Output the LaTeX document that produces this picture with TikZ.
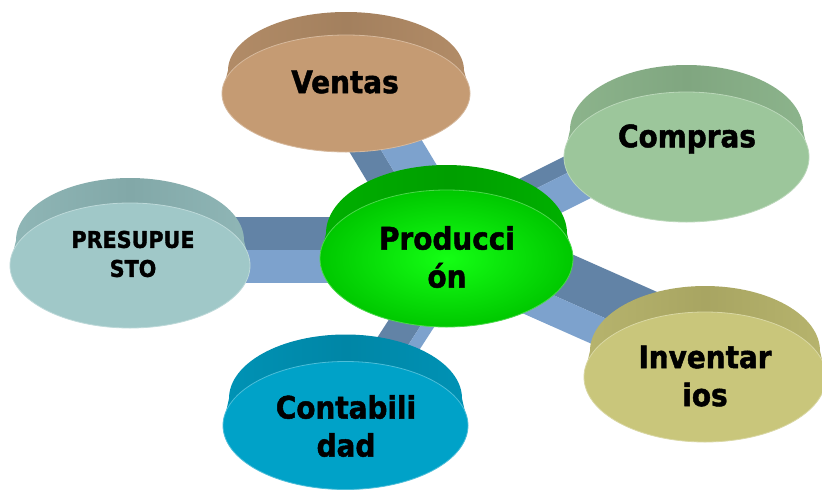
\documentclass[tikz,border=0pt]{standalone}
\usepackage{fontspec}
\setmainfont{DejaVu Sans Condensed}[BoldFont={DejaVu Sans Condensed Bold},BoldFeatures={FakeBold=1.5}]
\usetikzlibrary{calc}
\definecolor{beamdark}{HTML}{6283A6}
\definecolor{beamlight}{HTML}{7DA2CD}
\definecolor{ventasF}{HTML}{C59B73}\definecolor{ventasS}{HTML}{A3805E}
\definecolor{comprasF}{HTML}{9CC69B}\definecolor{comprasS}{HTML}{80A680}
\definecolor{invF}{HTML}{C9C67B}\definecolor{invS}{HTML}{A8A562}
\definecolor{contF}{HTML}{00A2C8}\definecolor{contS}{HTML}{0086A6}
\definecolor{presF}{HTML}{A0C8C8}\definecolor{presS}{HTML}{82A8A8}
\definecolor{prodIn}{HTML}{14FF14}\definecolor{prodOut}{HTML}{00C800}
\definecolor{prodS}{HTML}{009E00}
\tikzset{
  lbl/.style={font=\fontsize{31}{38}\selectfont\bfseries, align=center, inner sep=0pt, text=black},
  lblsmall/.style={font=\fontsize{23}{29}\selectfont\bfseries, align=center, inner sep=0pt, text=black},
}
% beam: #1 A, #2 B, #3 dark width, #4 light width, #5 angle, #6 minus angle
\newcommand\mybeam[6]{%
  \fill[beamdark] (#1) -- ($(#1)!#3!#5:(#2)$) -- ($(#2)!#3!#6:(#1)$) -- (#2) -- cycle;
  \fill[beamlight] (#1) -- ($(#1)!#4!#6:(#2)$) -- ($(#2)!#4!#5:(#1)$) -- (#2) -- cycle;
}
% disk side: #1 cx, #2 cy, #3 rx, #4 ry, #5 depth, #6 face, #7 side
\newcommand\mydiskside[7]{%
  \pgfmathsetmacro\myrxtop{#3-6}%
  \path[left color=#7!55!#6, right color=#7!55!#6, middle color=#7]
    ({#1-#3},#2) -- ({#1-#3+6},{#2-#5}) arc[start angle=180, end angle=0, x radius=\myrxtop pt, y radius=#4pt] -- ({#1+#3},#2) -- cycle;
}
% disk: #1 name, #2 cx, #3 cy, #4 rx, #5 ry, #6 depth, #7 face, #8 side
\newcommand\mydisk[8]{%
  \mydiskside{#2}{#3}{#4}{#5}{#6}{#7}{#8}
  \fill[#7, draw=#7!70!white, line width=0.8pt] (#2,#3) ellipse[x radius=#4pt, y radius=#5pt];
  \coordinate (#1) at (#2,#3);
}
\begin{document}
\begin{tikzpicture}[x=1pt,y=-1pt]
\useasboundingbox (0,0) rectangle (822,491);
\fill[white] (0,0) rectangle (822,491);
% beam end points
\coordinate (pP) at (447,250); \coordinate (sP) at (130,250);
\coordinate (pV) at (440,248); \coordinate (sV) at (340,82);
\coordinate (pC) at (447,233); \coordinate (sC) at (687,113);
\coordinate (pI) at (447,248); \coordinate (sI) at (704,362);
\coordinate (pK) at (471,248); \coordinate (sK) at (370,404);
\mybeam{pP}{sP}{33pt}{33pt}{-90}{90}
\mybeam{pV}{sV}{28pt}{40pt}{90}{-90}
\mybeam{pC}{sC}{16pt}{33pt}{90}{-90}
\mybeam{pI}{sI}{45pt}{29pt}{90}{-90}
\mybeam{pK}{sK}{30pt}{12pt}{-90}{90}
% disks
\mydisk{ventas}{346}{93.5}{124}{58.5}{23}{ventasF}{ventasS}
\mydisk{compras}{686.5}{157}{122.5}{65}{27}{comprasF}{comprasS}
\mydisk{inv}{705}{377}{121}{65}{26}{invF}{invS}
\mydisk{cont}{345.5}{425.5}{122.5}{64}{27}{contF}{contS}
\mydisk{pres}{130}{265.5}{120}{62.5}{25}{presF}{presS}
% central disk
\mydiskside{446.5}{258.5}{126.5}{68.5}{25}{prodOut}{prodS}
\shade[inner color=prodIn, outer color=prodOut] (446.5,258.5) ellipse[x radius=126.5pt, y radius=68.5pt];
\draw[prodOut!70!white, line width=0.8pt] (446.5,258.5) ellipse[x radius=126.5pt, y radius=68.5pt];
\coordinate (prod) at (446.5,258.5);
% labels
\node[lbl] (tVentas) at (345,82) {Ventas};
\node[lbl] (tCompras) at (687,139) {Compras};
\node[lbl] (tInv) at (705,376) {Inventar\\ios};
\node[lbl] (tCont) at (346,426) {Contabili\\dad};
\node[lbl] (tProd) at (447,257) {Producci\\ón};
\node[lblsmall] (tPres) at (133,254) {PRESUPUE\\STO};
\end{tikzpicture}
\end{document}
